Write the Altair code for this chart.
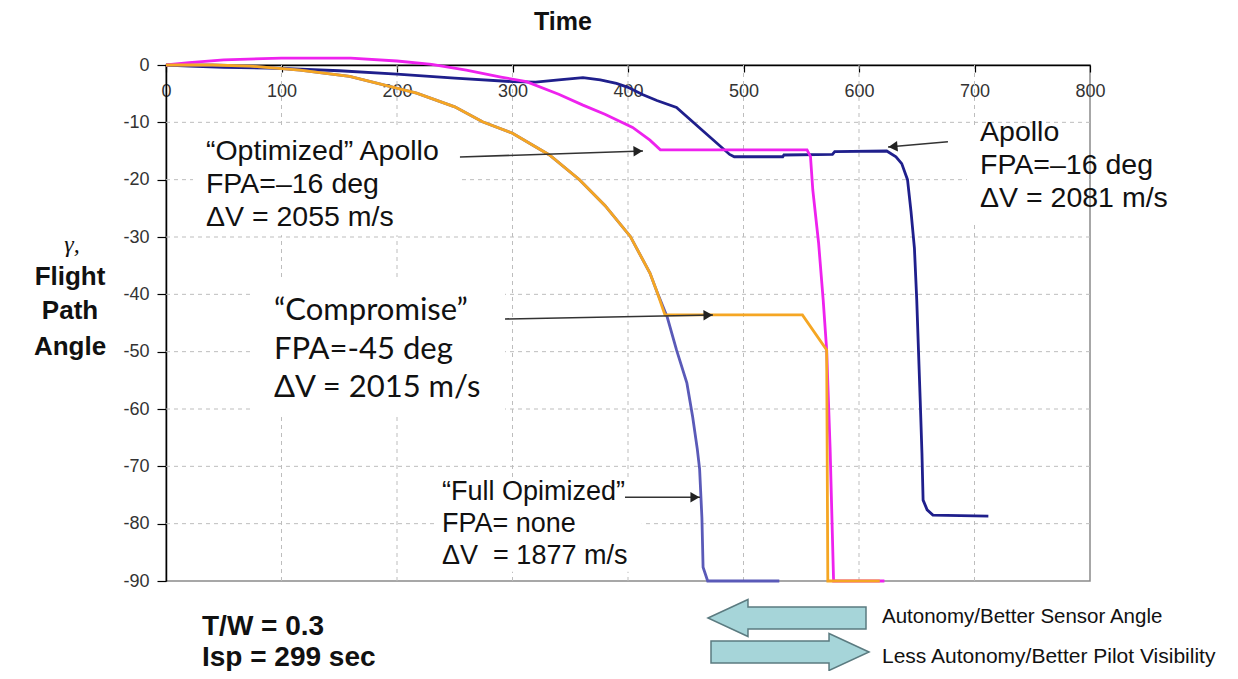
import math
import altair as alt
import pandas as pd

W, H = 924, 516
X_MAX, Y_MIN = 800, -90

x_ticks = [0, 100, 200, 300, 400, 500, 600, 700, 800]
y_ticks = [0, -10, -20, -30, -40, -50, -60, -70, -80, -90]
x_grid = [100, 200, 300, 400, 500, 600, 700]
y_grid = [-10, -20, -30, -40, -50, -60, -70, -80]

series_names = ["Apollo", "Full Opimized", "Optimized Apollo", "Compromise"]
series_colors = ["#1F1F8C", "#5A5AB8", "#EE22EE", "#F5A623"]

apollo_t = [0, 20, 50, 100, 150, 200, 250, 300, 320, 340, 361, 376, 390, 400, 413, 425, 442, 465, 488,
            492, 534, 535, 577, 579, 624, 632, 637, 642, 645, 648, 650, 653, 654.5, 655.5, 659, 664, 712]
apollo_y = [0, -0.2, -0.4, -0.6, -1.0, -1.6, -2.3, -2.9, -3.0, -2.6, -2.2, -2.6, -3.2, -3.9, -5.2, -6.2,
            -7.4, -11.5, -15.6, -16.0, -16.0, -15.7, -15.6, -15.1, -15.0, -16.0, -17.2, -20.0, -25.5,
            -32.0, -41.0, -58.5, -67.7, -75.9, -77.6, -78.5, -78.7]

opt_t = [0, 20, 50, 100, 160, 200, 230, 260, 290, 312, 340, 361, 380, 404, 419, 428, 555, 558, 560,
         565, 569, 572, 575, 578, 622]
opt_y = [0, 0.4, 0.9, 1.2, 1.2, 0.7, 0.1, -0.9, -2.1, -2.9, -5.1, -7.0, -8.6, -10.9, -13.1, -14.8,
         -14.8, -16.0, -21.8, -31.0, -41.0, -49.7, -67.0, -90.0, -90.0]

comp_t = [0, 40, 73, 116, 159, 217, 250, 274, 300, 332, 358, 380, 402, 419, 425, 432, 551, 572, 573, 618]
comp_y = [0, 0, -0.2, -0.9, -2.0, -4.9, -7.3, -9.9, -11.9, -15.7, -20.0, -24.5, -29.9, -36.3, -39.5,
          -43.6, -43.6, -49.7, -90.0, -90.0]

full_t = [0, 40, 73, 116, 159, 217, 250, 274, 300, 332, 358, 380, 402, 419, 425, 434, 442, 451, 456,
          460, 462, 464, 465, 469, 531]
full_y = [0, 0, -0.2, -0.9, -2.0, -4.9, -7.3, -9.9, -11.9, -15.7, -20.0, -24.5, -29.9, -36.3, -39.5,
          -44.0, -49.7, -55.5, -61.4, -67.0, -70.5, -79.0, -87.6, -90.0, -90.0]

# white boxes behind the annotation texts (data coordinates)
box_t0 = [23.4, 73.6, 235.5, 693.5]
box_t1 = [254.5, 293.5, 412.0, 799.0]
box_y0 = [-10.5, -37.5, -72.0, -10.5]
box_y1 = [-29.7, -61.0, -88.4, -27.9]

# annotation arrows (data coordinates)
arr_t0 = [254.5, 677.0, 293.5, 397.4]
arr_y0 = [-16.05, -13.4, -44.3, -75.4]
arr_t1 = [413.0, 625.1, 473.6, 462.3]
arr_y1 = [-15.0, -14.3, -43.6, -75.4]

rows = []
for name, ts, ys_ in [("Apollo", apollo_t, apollo_y), ("Full Opimized", full_t, full_y),
                      ("Optimized Apollo", opt_t, opt_y), ("Compromise", comp_t, comp_y)]:
    for i, (t, y) in enumerate(zip(ts, ys_)):
        rows.append({"series": name, "t": t, "y": y, "i": i})
lines_df = pd.DataFrame(rows)

xs = alt.Scale(domain=[0, X_MAX], nice=False, zero=False)
ys = alt.Scale(domain=[Y_MIN, 0], nice=False, zero=False)
SX, SY = W / X_MAX, H / (-Y_MIN)

FONT = "Liberation Sans"

x_axis = alt.Axis(orient="bottom", offset=-H, values=x_ticks, title=None, grid=False,
                  domainColor="black", domainWidth=1.5, tickColor="black", tickSize=7,
                  tickWidth=1.2, labelFont=FONT, labelFontSize=18, labelColor="#333",
                  labelPadding=10, labelFlush=False, labelOverlap=False)
y_axis = alt.Axis(orient="left", values=y_ticks, title=None, grid=False, domainColor="black",
                  domainWidth=1.5, tickColor="black", tickSize=9, tickWidth=1.2, labelFont=FONT,
                  labelFontSize=18, labelColor="#333", labelPadding=8, labelFlush=False,
                  labelOverlap=False,
                  labelExpr="datum.value == 0 ? '0' : '-' + abs(datum.value)")


def X(field):
    return alt.X(field, scale=xs, axis=x_axis)


def Y(field):
    return alt.Y(field, scale=ys, axis=y_axis)


# grid
gx = alt.Chart(pd.DataFrame({"t": x_grid})).mark_rule(color="#BDBDBD", strokeDash=[4, 4], strokeWidth=1).encode(
    x=X("t:Q"))
gy = alt.Chart(pd.DataFrame({"y": y_grid})).mark_rule(color="#BDBDBD", strokeDash=[4, 4], strokeWidth=1).encode(
    y=Y("y:Q"))

boxes = alt.Chart(pd.DataFrame({"t0": box_t0, "t1": box_t1, "y0": box_y0, "y1": box_y1})).mark_rect(
    color="white").encode(x=X("t0:Q"), x2="t1:Q", y=Y("y0:Q"), y2="y1:Q")

lines = alt.Chart(lines_df).mark_line(strokeWidth=2.8).encode(
    x=X("t:Q"), y=Y("y:Q"),
    color=alt.Color("series:N", scale=alt.Scale(domain=series_names, range=series_colors), legend=None),
    order="i:Q",
    detail="series:N")

arr_df = pd.DataFrame({"t0": arr_t0, "y0": arr_y0, "t1": arr_t1, "y1": arr_y1})
ang, ht, hy = [], [], []
for a, b, c, d in zip(arr_t0, arr_y0, arr_t1, arr_y1):
    dx, dy = (c - a) * SX, -(d - b) * SY
    L = math.hypot(dx, dy)
    ang.append(math.degrees(math.atan2(dy, dx)) % 360)
    ht.append(c - dx / L * 5 / SX)
    hy.append(d + dy / L * 5 / SY)
arr_df["angle"] = ang
arr_df["ht"] = ht
arr_df["hy"] = hy

arrows = alt.Chart(arr_df).mark_rule(color="#333", strokeWidth=1.6).encode(
    x=X("t0:Q"), x2="t1:Q", y=Y("y0:Q"), y2="y1:Q")
heads = alt.Chart(arr_df).mark_point(shape="triangle-right", filled=True, color="#222", size=110,
                                     opacity=1).encode(
    x=X("ht:Q"), y=Y("hy:Q"), angle=alt.Angle("angle:Q", scale=None))


def ann(text, t, y, size, line_h, font=FONT, weight="normal"):
    return alt.Chart(pd.DataFrame({"t": [t], "y": [y], "txt": [text]})).mark_text(
        align="left", baseline="alphabetic", font=font, fontSize=size, fontWeight=weight,
        lineHeight=line_h, lineBreak="\n", color="#111").encode(
        x=X("t:Q"), y=Y("y:Q"), text="txt:N")


t_opt = ann("\u201cOptimized\u201d Apollo\nFPA=\u201316 deg\n\u0394V = 2055 m/s", 34.6, -16.6, 28.5, 33)
t_apo = ann("Apollo\nFPA=\u201316 deg\n\u0394V = 2081 m/s", 704.8, -13.3, 28.5, 33)
t_comp = ann("\u201cCompromise\u201d\nFPA=-45 deg\n\u0394V = 2015 m/s", 93.5, -44.5, 31, 38.5, font="Lato")
t_full = ann("\u201cFull Opimized\u201d\nFPA= none\n\u0394V \u00a0= 1877 m/s", 239.0, -75.9, 27, 32)


def px_text(text, x, y, size, font=FONT, weight="normal", style="normal", align="left",
            baseline="alphabetic", line_h=None):
    kw = dict(align=align, baseline=baseline, font=font, fontSize=size, fontWeight=weight,
              fontStyle=style, lineBreak="\n", color="#111")
    if line_h:
        kw["lineHeight"] = line_h
    return alt.Chart(pd.DataFrame({"txt": [text]})).mark_text(**kw).encode(
        x=alt.value(x), y=alt.value(y), text="txt:N")


t_time = px_text("Time", 397, -43, 25, weight="bold", align="center", baseline="middle")
t_g = px_text("\u03b3,", -94, 180, 24, font="Liberation Serif", style="italic", align="center",
              baseline="middle")
t_f = px_text("Flight", -96, 212, 26, weight="bold", align="center", baseline="middle")
t_p = px_text("Path", -96, 246, 26, weight="bold", align="center", baseline="middle")
t_a = px_text("Angle", -96, 282, 26, weight="bold", align="center", baseline="middle")
t_tw = px_text("T/W = 0.3\nIsp = 299 sec", 36, 570, 28, weight="bold", line_h=31)
t_b1 = px_text("Autonomy/Better Sensor Angle", 716, 558, 20.5)
t_b2 = px_text("Less Autonomy/Better Pilot Visibility", 716, 598, 21)

LEFT_ARROW = "M -1 0 L -0.494 -0.234 L -0.494 -0.139 L 1 -0.139 L 1 0.139 L -0.494 0.139 L -0.494 0.234 Z"
RIGHT_ARROW = "M 1 0 L 0.494 -0.234 L 0.494 -0.139 L -1 -0.139 L -1 0.139 L 0.494 0.139 L 0.494 0.234 Z"


def block(shape, x, y):
    return alt.Chart(pd.DataFrame({"a": [0]})).mark_point(
        shape=shape, filled=True, fill="#A6D5D9", stroke="#5B7B80", strokeWidth=1.5,
        size=158 * 158, opacity=1).encode(x=alt.value(x), y=alt.value(y))


b1 = block(LEFT_ARROW, 621, 553)
b2 = block(RIGHT_ARROW, 624, 587)

chart = alt.layer(
    gx, gy, boxes, lines, arrows, heads, t_opt, t_apo, t_comp, t_full,
    t_time, t_g, t_f, t_p, t_a, t_tw, t_b1, t_b2, b1, b2
).properties(
    width=W, height=H,
    autosize=alt.AutoSizeParams(type="none"),
    padding={"left": 158, "top": 57, "right": 140, "bottom": 90},
    background="white"
).configure_view(stroke="#8A8A8A", strokeWidth=1.5)

chart.save("out.html", embed_options={"renderer": "svg", "actions": False})
